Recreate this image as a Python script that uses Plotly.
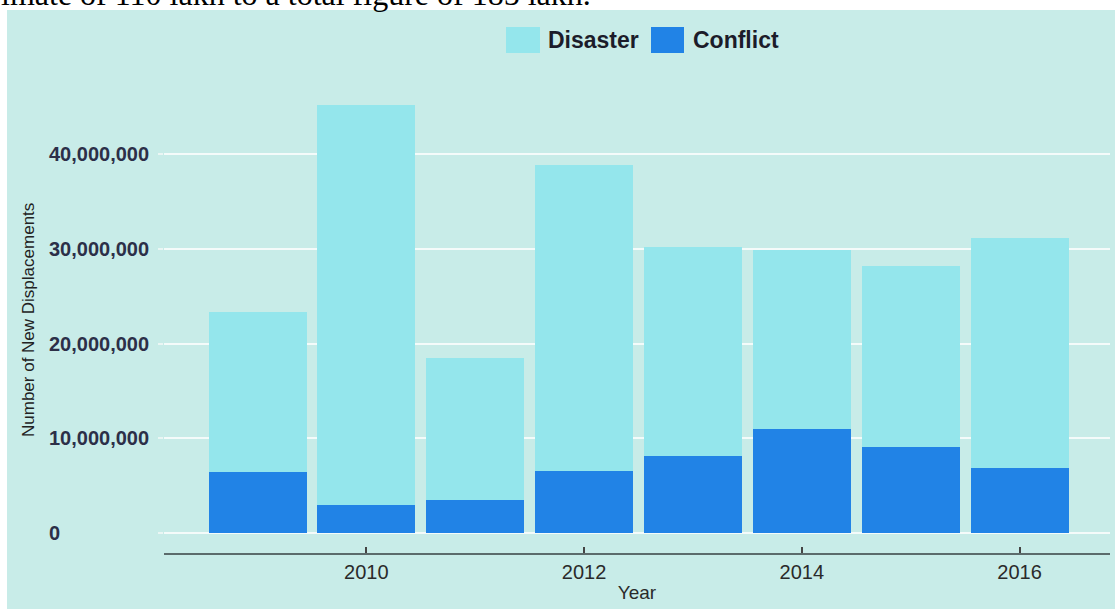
import plotly.graph_objects as go

years = [2009, 2010, 2011, 2012, 2013, 2014, 2015, 2016]
conflict = [6.47e6, 2.96e6, 3.48e6, 6.58e6, 8.13e6, 10.94e6, 9.11e6, 6.89e6]
disaster = [16.83e6, 42.24e6, 15.02e6, 32.22e6, 22.07e6, 18.96e6, 19.09e6, 24.21e6]
y_ticks = [0, 10_000_000, 20_000_000, 30_000_000, 40_000_000]
y_tick_text = ["0", "10,000,000", "20,000,000", "30,000,000", "40,000,000"]
x_ticks = [2010, 2012, 2014, 2016]
series_names = ["Disaster", "Conflict"]

TEAL = "#C8ECE8"
C_DIS = "#94E6EC"
C_CON = "#2183E6"
TXT = "#2c2f48"

W, H = 1115, 609
L, R, T, B = 164, 5, 83, 56
pw, ph = W - L - R, H - T - B


def px(x):
    return (x - L) / pw


def py(y):
    return (H - B - y) / ph


fig = go.Figure()
fig.add_trace(go.Bar(x=years, y=conflict, name=series_names[1], marker=dict(color=C_CON, line=dict(width=0)), width=0.9))
fig.add_trace(go.Bar(x=years, y=disaster, name=series_names[0], marker=dict(color=C_DIS, line=dict(width=0)), width=0.9))

shapes = [
    dict(type="rect", xref="paper", yref="paper", x0=px(7), x1=px(1116), y0=py(10), y1=py(610),
         fillcolor=TEAL, line=dict(width=0), layer="below"),
    dict(type="rect", xref="paper", yref="paper", x0=px(506), x1=px(540), y0=py(53), y1=py(27),
         fillcolor=C_DIS, line=dict(width=0)),
    dict(type="rect", xref="paper", yref="paper", x0=px(651), x1=px(684), y0=py(53), y1=py(27),
         fillcolor=C_CON, line=dict(width=0)),
]

annotations = [
    dict(text="imate of 110 lakh to a total figure of 185 lakh.", xref="paper", yref="paper",
         x=px(-1), y=py(14), xanchor="left", yanchor="bottom", showarrow=False,
         font=dict(family="Liberation Serif, Times New Roman, serif", size=32, color="#000000")),
    dict(text="<b>Disaster</b>", xref="paper", yref="paper", x=px(546), y=py(40), xanchor="left",
         yanchor="middle", showarrow=False,
         font=dict(family="Liberation Sans, Arial, sans-serif", size=23, color="#1c1c2a")),
    dict(text="<b>Conflict</b>", xref="paper", yref="paper", x=px(691), y=py(40), xanchor="left",
         yanchor="middle", showarrow=False,
         font=dict(family="Liberation Sans, Arial, sans-serif", size=23, color="#1c1c2a")),
    dict(text="Number of New Displacements", xref="paper", yref="paper", x=px(28), y=py(320),
         xanchor="center", yanchor="middle", textangle=-90, showarrow=False,
         font=dict(family="Liberation Sans Narrow, Liberation Sans, Arial, sans-serif", size=17, color="#222222")),
]
for v, t in zip(y_ticks, y_tick_text):
    annotations.append(dict(text="<b>" + t + "</b>", xref="paper", yref="y", x=px(47), y=v,
                            xanchor="left", yanchor="middle", showarrow=False,
                            font=dict(family="Liberation Sans, Arial, sans-serif", size=20, color=TXT)))

fig.update_layout(
    width=W, height=H,
    margin=dict(l=L, r=R, t=T, b=B, pad=0),
    barmode="stack",
    bargap=0,
    showlegend=False,
    paper_bgcolor="#ffffff",
    plot_bgcolor=TEAL,
    shapes=shapes,
    annotations=annotations,
    xaxis=dict(
        range=[2008.141, 2016.831], tickvals=x_ticks, ticktext=[str(v) for v in x_ticks],
        showgrid=False, zeroline=False, showline=True, linecolor="#5b6b6b", linewidth=2,
        ticks="inside", ticklen=6, tickwidth=1.5, tickcolor="#444444",
        tickfont=dict(family="Liberation Sans, Arial, sans-serif", size=20, color="#2a2a2a"),
        title=dict(text="Year", standoff=4,
                   font=dict(family="Liberation Sans, Arial, sans-serif", size=19, color="#2a2a2a")),
    ),
    yaxis=dict(
        range=[-2.11e6, 47.5e6], tickvals=y_ticks, showticklabels=False,
        showgrid=True, gridcolor="#F4FBFA", gridwidth=2, zeroline=False, showline=False,
        ticks="outside", ticklen=5, tickcolor="#EAF6F4", tickwidth=1.5,
    ),
)

fig.write_html(
    "out.html",
    config={"displayModeBar": False},
    post_script="document.body.style.margin='0';document.body.style.overflow='hidden';",
)
